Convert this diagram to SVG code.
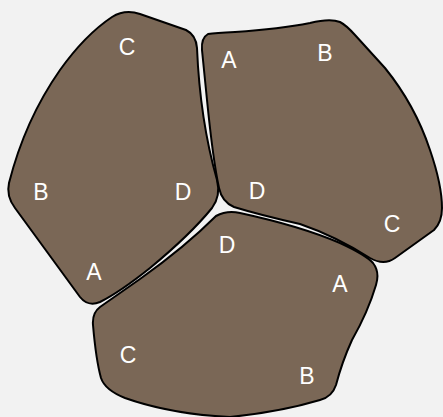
<svg xmlns="http://www.w3.org/2000/svg" width="443" height="417" viewBox="0 0 443 417">
<style>
.piece{fill:#7a6756;stroke:#000;stroke-width:2;stroke-linejoin:round}
.lbl{fill:#fff;font-family:"Liberation Sans",Arial,sans-serif;font-size:23px;text-anchor:middle}
</style>
<rect width="443" height="417" fill="#f2f2f2"/>
<g id="piece-left">
<path class="piece" d="M112,17 Q125,9 140,14 L186,30 Q196,35 197,48 Q200,120 217,180 Q221,196 212,208 Q190,235 150,268 Q120,292 100,302 Q88,307 80,297 L15,208 Q6,196 9,183 Q25,120 60,70 Q85,35 112,17 Z"/>
<text class="lbl" x="127" y="55">C</text>
<text class="lbl" x="41" y="200">B</text>
<text class="lbl" x="183" y="200">D</text>
<text class="lbl" x="94" y="280">A</text>
</g>
<g id="piece-right">
<path class="piece" d="M208,34 Q215,33 235,32 Q280,29 310,23 Q330,18 340,22 Q346,25 355,35 L385,68 Q415,105 430,150 Q442,185 442,208 Q442,222 434,230 L395,258 Q384,266 370,258 Q335,236 300,224 Q260,215 234,207 Q222,202 219,188 Q213,160 207,100 L202,50 Q201,38 208,34 Z"/>
<text class="lbl" x="229" y="68">A</text>
<text class="lbl" x="325" y="61">B</text>
<text class="lbl" x="257" y="199">D</text>
<text class="lbl" x="392" y="232">C</text>
</g>
<g id="piece-bottom">
<path class="piece" d="M216,216 Q227,210 240,213 Q300,226 340,243 Q366,255 373,263 Q380,272 376,285 Q368,312 352,340 Q342,362 336,385 Q332,397 320,400 Q280,412 230,417 Q170,414 125,398 Q105,390 101,378 Q96,360 93,325 Q92,313 100,307 L140,279 Q185,247 216,216 Z"/>
<text class="lbl" x="227" y="253">D</text>
<text class="lbl" x="340" y="292">A</text>
<text class="lbl" x="128" y="363">C</text>
<text class="lbl" x="307" y="384">B</text>
</g>
</svg>
